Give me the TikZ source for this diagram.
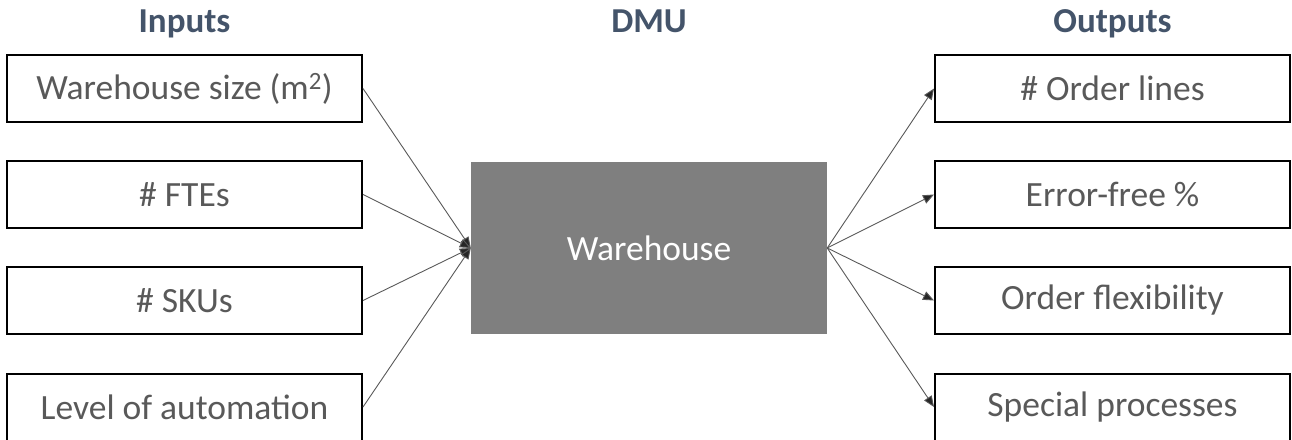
\documentclass[tikz,border=0pt]{standalone}
\usepackage{fontspec}
\setmainfont{Carlito}
\usetikzlibrary{arrows.meta}
\definecolor{txtgray}{HTML}{595959}
\definecolor{hdr}{HTML}{44546A}
\definecolor{boxgray}{HTML}{7F7F7F}
\definecolor{tipgray}{HTML}{262626}
\tikzset{
  iobox/.style={draw=black, line width=2pt, minimum width=355pt, minimum height=67pt, inner sep=0pt, text=txtgray, font=\fontsize{35.5}{42}\selectfont},
  hdrtext/.style={text=hdr, font=\fontsize{35}{42}\selectfont\bfseries, inner sep=0pt, anchor=base},
  dmubox/.style={fill=boxgray, minimum width=356pt, minimum height=172pt, inner sep=0pt, text=white, font=\fontsize{35.5}{42}\selectfont},
  conn/.style={draw=txtgray, line width=0.9pt, -{Triangle[length=11pt,width=9pt,fill=tipgray]}},
}
\begin{document}
\begin{tikzpicture}[x=1pt,y=1pt]
\useasboundingbox (0,0) rectangle (1292,439);
% headers (ty = 439 - y_img), placed on their baseline
\node[hdrtext] (hin) at (184.5,439-33) {Inputs};
\node[hdrtext] (hdmu) at (649,439-33) {DMU};
\node[hdrtext] (hout) at (1112.5,439-33) {Outputs};
% input boxes
\node[iobox] (i1) at (184.5,439-88.5) {Warehouse size (m\textsuperscript{2})};
\node[iobox] (i2) at (184.5,439-194.5) {\# FTEs};
\node[iobox] (i3) at (184.5,439-300.5) {\# SKUs};
\node[iobox] (i4) at (184.5,439-407) {Level of automation};
% DMU
\node[dmubox] (dmu) at (649,439-248) {Warehouse};
% output boxes
\node[iobox] (o1) at (1112.5,439-88.5) {\# Order lines};
\node[iobox] (o2) at (1112.5,439-194.5) {Error-free \%};
\node[iobox] (o3) at (1112.5,439-300.5) {Order flexibility};
\node[iobox] (o4) at (1112.5,439-407) {Special processes};
% connectors
\foreach \n in {i1,i2,i3,i4}{
  \draw[conn] (\n.east) -- (dmu.west);
}
\foreach \n in {o1,o2,o3,o4}{
  \draw[conn] (dmu.east) -- (\n.west);
}
\end{tikzpicture}
\end{document}
